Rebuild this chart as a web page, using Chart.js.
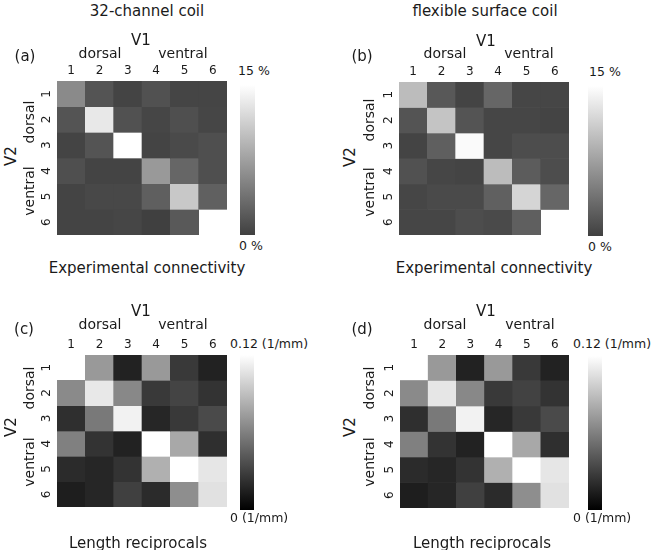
<!DOCTYPE html>
<html>
<head>
<meta charset="utf-8">
<script src="https://cdn.jsdelivr.net/npm/chart.js@4.4.1/dist/chart.umd.min.js"></script>
<style>
  body { margin:0; background:#fff; width:652px; height:550px; position:relative; overflow:hidden;
         font-family:"DejaVu Sans", sans-serif; color:#1a1a1a; }
  .t { position:absolute; white-space:nowrap; line-height:1; transform:translate(-50%,-50%); }
  .rot { transform:translate(-50%,-50%) rotate(-90deg); }
  .lft { position:absolute; white-space:nowrap; line-height:1; transform:translateY(-50%); }
  canvas { position:absolute; }
</style>
</head>
<body>
<script>
// V1 columns / V2 rows
const colLabels = ['1', '2', '3', '4', '5', '6']
const rowLabels = ['1', '2', '3', '4', '5', '6']

// experimental connectivity in %, rows = V2, cols = V1 (null = not shown)
const conn32ch = [
  [5.8, 1.6, 0.3, 1.3, 0.4, 0.4],
  [1.6, 13.2, 1.3, 0.5, 1.2, 0.5],
  [0.3, 1.6, 15.0, 0.3, 0.8, 1.2],
  [1.2, 0.3, 0.3, 7.0, 3.0, 1.2],
  [0.3, 0.6, 0.6, 2.4, 10.7, 2.5],
  [0.3, 0.3, 0.5, 0.0, 2.0, null]
]
const connFlex = [
  [9.7, 1.9, 0.3, 3.0, 0.5, 0.5],
  [1.6, 10.4, 1.6, 0.5, 0.5, 0.3],
  [0.3, 2.4, 14.6, 0.5, 1.0, 1.0],
  [1.3, 0.5, 0.3, 9.7, 2.2, 1.0],
  [0.5, 0.8, 0.8, 2.5, 11.7, 3.0],
  [0.5, 0.5, 1.0, 0.8, 2.4, null]
]

// length reciprocals in 1/mm
const lenRecipC = [
  [null, 0.072, 0.016, 0.072, 0.027, 0.016],
  [0.065, 0.109, 0.064, 0.027, 0.032, 0.024],
  [0.022, 0.057, 0.114, 0.018, 0.027, 0.035],
  [0.060, 0.024, 0.016, 0.120, 0.079, 0.022],
  [0.020, 0.018, 0.024, 0.083, 0.120, 0.108],
  [0.014, 0.018, 0.030, 0.020, 0.067, 0.106]
]
const lenRecipD = [
  [null, 0.072, 0.016, 0.072, 0.027, 0.016],
  [0.065, 0.108, 0.064, 0.027, 0.031, 0.024],
  [0.022, 0.057, 0.114, 0.018, 0.027, 0.035],
  [0.060, 0.024, 0.016, 0.120, 0.079, 0.022],
  [0.020, 0.018, 0.024, 0.083, 0.120, 0.108],
  [0.014, 0.018, 0.030, 0.020, 0.067, 0.106]
]

const ink = '#1a1a1a'
const FONT = '"DejaVu Sans", sans-serif'

// gray maps
const grayPct = v => { let g = Math.round(64 + 191 * Math.min(v, 15) / 15); return `rgb(${g},${g},${g})` }
const grayLen = v => { let g = Math.round(255 * Math.min(v, 0.12) / 0.12); return `rgb(${g},${g},${g})` }

const panels = [
  { values: conn32ch, vmax: 15, color: grayPct, letter: '(a)', title: '32-channel coil', xlab: 'Experimental connectivity',
    box: [57, 81, 227, 235], cb: [240, 85, 255, 235], top: ['15 %', 238, 71], bot: ['0 %', 239, 246],
    txt: { letter: [25, 56], v1: [141, 40], dors: [100, 53], vent: [183, 53], v2: [11, 156], dRot: [29, 122], vRot: [29, 191], xlab: [147, 268], title: [147, 11] } },
  { values: connFlex, vmax: 15, color: grayPct, letter: '(b)', title: 'flexible surface coil', xlab: 'Experimental connectivity',
    box: [399, 82, 569, 235], cb: [588, 86, 603, 236], top: ['15 %', 589, 72], bot: ['0 %', 588, 247],
    txt: { letter: [362, 56], v1: [486, 41], dors: [445, 53], vent: [529, 53], v2: [350, 157], dRot: [369, 120], vRot: [369, 192], xlab: [494, 268], title: [485, 11] } },
  { values: lenRecipC, vmax: 0.12, color: grayLen, letter: '(c)', title: null, xlab: 'Length reciprocals',
    box: [57, 355, 227, 507], cb: [240, 355, 254, 510], top: ['0.12 (1/mm)', 230, 344], bot: ['0 (1/mm)', 230, 518],
    txt: { letter: [24, 329], v1: [141, 311], dors: [100, 324], vent: [183, 324], v2: [11, 427], dRot: [29, 388], vRot: [29, 462], xlab: [138, 543] } },
  { values: lenRecipD, vmax: 0.12, color: grayLen, letter: '(d)', title: null, xlab: 'Length reciprocals',
    box: [400, 355, 569, 508], cb: [588, 356, 602, 510], top: ['0.12 (1/mm)', 573, 344], bot: ['0 (1/mm)', 573, 518],
    txt: { letter: [362, 329], v1: [486, 311], dors: [445, 324], vent: [530, 324], v2: [350, 427], dRot: [369, 388], vRot: [369, 462], xlab: [482, 543] } }
]

function addText(str, x, y, size, cls) {
  const d = document.createElement('div')
  d.className = cls || 't'
  d.textContent = str
  d.style.left = x + 'px'
  d.style.top = y + 'px'
  d.style.fontSize = size + 'px'
  document.body.appendChild(d)
}

function addCanvas(x, y, w, h) {
  const c = document.createElement('canvas')
  c.width = w; c.height = h
  c.style.left = x + 'px'; c.style.top = y + 'px'
  c.style.width = w + 'px'; c.style.height = h + 'px'
  document.body.appendChild(c)
  return c
}

// rotated V2 tick numbers, placed with the y scale
const rowTicks = {
  id: 'rowTicks',
  afterDraw(chart) {
    const { ctx, chartArea } = chart
    const y = chart.scales.y
    ctx.save()
    ctx.fillStyle = ink
    ctx.font = '12px ' + FONT
    ctx.textAlign = 'center'
    ctx.textBaseline = 'middle'
    rowLabels.forEach((lab, i) => {
      ctx.save()
      ctx.translate(chartArea.left - 10, y.getPixelForValue(i + 1))
      ctx.rotate(-Math.PI / 2)
      ctx.fillText(lab, 0, 0)
      ctx.restore()
    })
    ctx.restore()
  }
}

const PADL = 30, PADT = 30

panels.forEach(p => {
  const [l, t, r, b] = p.box
  const cv = addCanvas(l - PADL, t - PADT, r - l + PADL, b - t + PADT)

  const datasets = rowLabels.map((row, i) => ({
    label: row,
    data: p.values[i].map(v => v == null ? null : [i + 0.5, i + 1.5]),
    backgroundColor: p.values[i].map(v => v == null ? 'rgba(0,0,0,0)' : p.color(v)),
    borderWidth: 0
  }))

  new Chart(cv, {
    type: 'bar',
    data: { labels: colLabels, datasets: datasets },
    options: {
      responsive: false,
      animation: false,
      events: [],
      layout: { padding: { left: PADL, top: 0, right: 0, bottom: 0 } },
      datasets: { bar: { grouped: false, barPercentage: 1, categoryPercentage: 1 } },
      plugins: { legend: { display: false }, tooltip: { enabled: false } },
      scales: {
        x: {
          position: 'top',
          grid: { display: false, drawTicks: false },
          border: { display: false },
          ticks: { color: ink, font: { family: FONT, size: 12 }, padding: 3, maxRotation: 0, autoSkip: false },
          afterFit: s => { s.height = PADT }
        },
        y: { display: false, min: 0.5, max: 6.5, reverse: true }
      }
    },
    plugins: [rowTicks]
  })

  // colour bar
  const [cl, ct, cr, cb] = p.cb
  const cbc = addCanvas(cl, ct, cr - cl, cb - ct)
  new Chart(cbc, {
    type: 'bar',
    data: {
      labels: [''],
      datasets: [{
        data: [[0, p.vmax]],
        borderWidth: 0,
        backgroundColor: ctx => {
          const ch = ctx.chart
          if (!ch.chartArea) return p.color(0)
          const ys = ch.scales.y
          const g = ch.ctx.createLinearGradient(0, ys.getPixelForValue(0), 0, ys.getPixelForValue(p.vmax))
          g.addColorStop(0, p.color(0))
          g.addColorStop(1, p.color(p.vmax))
          return g
        }
      }]
    },
    options: {
      responsive: false,
      animation: false,
      events: [],
      layout: { padding: 0 },
      datasets: { bar: { barPercentage: 1, categoryPercentage: 1 } },
      plugins: { legend: { display: false }, tooltip: { enabled: false } },
      scales: {
        x: { display: false },
        y: { display: false, min: 0, max: p.vmax }
      }
    }
  })

  addText(p.top[0], p.top[1], p.top[2], 12.5, 'lft')
  addText(p.bot[0], p.bot[1], p.bot[2], 12.5, 'lft')

  const T = p.txt
  if (p.title) addText(p.title, T.title[0], T.title[1], 15)
  addText(p.letter, T.letter[0], T.letter[1], 15)
  addText('V1', T.v1[0], T.v1[1], 15)
  addText('dorsal', T.dors[0], T.dors[1], 14)
  addText('ventral', T.vent[0], T.vent[1], 14)
  addText('V2', T.v2[0], T.v2[1], 15, 't rot')
  addText('dorsal', T.dRot[0], T.dRot[1], 14, 't rot')
  addText('ventral', T.vRot[0], T.vRot[1], 14, 't rot')
  addText(p.xlab, T.xlab[0], T.xlab[1], 15)
})
</script>
</body>
</html>
